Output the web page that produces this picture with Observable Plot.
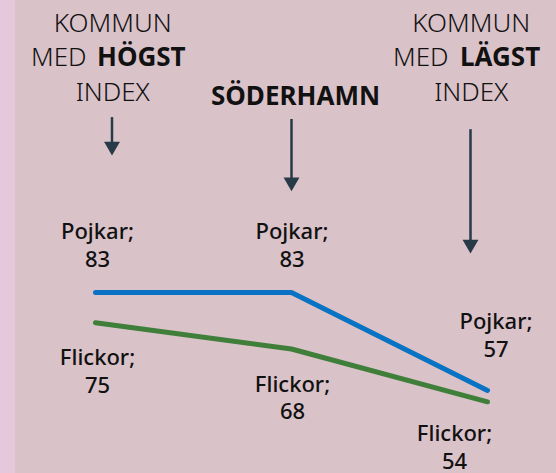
<!DOCTYPE html>
<html><head><meta charset="utf-8">
<script src="https://cdn.jsdelivr.net/npm/d3@7"></script>
<script src="https://cdn.jsdelivr.net/npm/@observablehq/plot@0.6"></script>
<style>
html,body{margin:0;padding:0;}
body{width:556px;height:473px;overflow:hidden;background:linear-gradient(to right,#e6c8dc 0,#e6c8dc 15px,#dac2c9 15px);}
g[aria-label="etiketter"] text{letter-spacing:1.6px}
g[aria-label="rubrik-tunn"] text{letter-spacing:1.5px}
g[aria-label="rubrik-fet"] text{letter-spacing:2.2px}
</style></head><body><div id="chart"></div>
<script>
// Data
const kommuner = ["Högst index", "Söderhamn", "Lägst index"];
const pojkar = [83, 83, 57];
const flickor = [75, 68, 54];
const kon = ["Pojkar", "Flickor"];
// Header texts
const rubrikRad1 = ["KOMMUN", "", "KOMMUN"];
const rubrikMed = ["MED", "", "MED"];
const rubrikFet = ["HÖGST", "SÖDERHAMN", "LÄGST"];
const rubrikRad3 = ["INDEX", "", "INDEX"];
// Arrow extents (index units)
const pilFran = [129.4, 128.9, 126.2];
const pilTill = [119.3, 109.8, 93.3];

const rows = kommuner.map((k, i) => ({
  i, kommun: k, pojkar: pojkar[i], flickor: flickor[i],
  r1: rubrikRad1[i], med: rubrikMed[i], fet: rubrikFet[i], r3: rubrikRad3[i],
  pilFran: pilFran[i], pilTill: pilTill[i]
}));
const serie = [
  ...kommuner.map((k, i) => ({kommun: k, i, kon: "Pojkar", varde: pojkar[i]})),
  ...kommuner.map((k, i) => ({kommun: k, i, kon: "Flickor", varde: flickor[i]}))
];

const ink = "#111111";
const pilFarg = "#263b47";
const F = "Noto Sans";

const colDx = [16.5, 0, -17];
const marks = [];

// arrows
rows.forEach((r, i) => {
  marks.push(Plot.ruleX([r], {x: "kommun", y1: "pilFran", y2: "pilTill", dx: colDx[i], stroke: pilFarg, strokeWidth: 2.5, insetBottom: 6}));
  marks.push(Plot.dot([r], {x: "kommun", y: "pilTill", dx: colDx[i], dy: -9.3, symbol: "triangle", r: 5.9, rotate: 180, fill: pilFarg, stroke: "none"}));
});

// headers
rows.filter(r => r.r1).forEach(r => {
  const dx = colDx[r.i] + 0.75;
  marks.push(Plot.text([r], {x: "kommun", text: "r1", frameAnchor: "top", dy: 31, lineAnchor: "bottom", dx, fontFamily: F, fontWeight: 300, fontSize: 26, fill: ink, ariaLabel: "rubrik-tunn"}));
  marks.push(Plot.text([r], {x: "kommun", text: "r3", frameAnchor: "top", dy: 100, lineAnchor: "bottom", dx, fontFamily: F, fontWeight: 300, fontSize: 26, fill: ink, ariaLabel: "rubrik-tunn"}));
});
marks.push(Plot.text([rows[0]], {x: "kommun", text: "med", frameAnchor: "top", dy: 65, lineAnchor: "bottom", textAnchor: "end", dx: -9, fontFamily: F, fontWeight: 300, fontSize: 26, fill: ink, ariaLabel: "rubrik-tunn"}));
marks.push(Plot.text([rows[0]], {x: "kommun", text: "fet", frameAnchor: "top", dy: 65, lineAnchor: "bottom", textAnchor: "start", dx: 1.5, fontFamily: F, fontWeight: 700, fontSize: 26, fill: ink, ariaLabel: "rubrik-fet"}));
marks.push(Plot.text([rows[2]], {x: "kommun", text: "med", frameAnchor: "top", dy: 65, lineAnchor: "bottom", textAnchor: "end", dx: -39, fontFamily: F, fontWeight: 300, fontSize: 26, fill: ink, ariaLabel: "rubrik-tunn"}));
marks.push(Plot.text([rows[2]], {x: "kommun", text: "fet", frameAnchor: "top", dy: 65, lineAnchor: "bottom", textAnchor: "start", dx: -27.5, fontFamily: F, fontWeight: 700, fontSize: 26, fill: ink, ariaLabel: "rubrik-fet"}));
marks.push(Plot.text([rows[1]], {x: "kommun", text: "fet", frameAnchor: "top", dy: 104, lineAnchor: "bottom", dx: 4, fontFamily: F, fontWeight: 700, fontSize: 26, fill: ink, ariaLabel: "rubrik-fet"}));

// lines
marks.push(Plot.line(serie, {x: "kommun", y: "varde", z: "kon", stroke: "kon", strokeWidth: 5, strokeLinecap: "round", strokeLinejoin: "round"}));

// value labels
const pojkDx = [2, 0.5, 8.5], pojkDy = [-26, -26, -34];
const flickDx = [2, 1, -33], flickDy = [23, 23, 20];
serie.forEach(d => {
  const isP = d.kon === "Pojkar";
  marks.push(Plot.text([d], {
    x: "kommun", y: "varde", text: v => `${v.kon};\n${v.varde}`,
    dx: isP ? pojkDx[d.i] : flickDx[d.i], dy: isP ? pojkDy[d.i] : flickDy[d.i],
    lineAnchor: isP ? "bottom" : "top", lineHeight: 1.25,
    fontFamily: F, fontWeight: 500, fontSize: 22, fill: ink, ariaLabel: "etiketter"
  }));
});

const chart = Plot.plot({
  width: 556, height: 473,
  marginLeft: 95, marginRight: 69, marginTop: 0, marginBottom: 0,
  style: {background: "transparent", fontFamily: F},
  x: {type: "point", domain: kommuner, padding: 0, axis: null},
  y: {domain: [57, 83], range: [390, 292], axis: null},
  color: {domain: kon, range: ["#0a72c4", "#3f7f3a"]},
  marks
});
document.getElementById("chart").append(chart);
</script></body></html>
